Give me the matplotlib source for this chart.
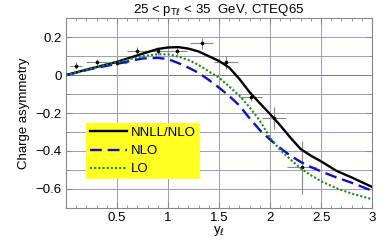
import numpy as np
import matplotlib.pyplot as plt
from matplotlib.ticker import MultipleLocator, FuncFormatter

plt.rcParams['font.family'] = ['Liberation Sans', 'DejaVu Sans']

# theory curves
y_grid = [0, 0.25, 0.5, 0.75, 0.9, 1.0, 1.1, 1.2, 1.3, 1.4, 1.5, 1.6, 1.7,
          1.8, 1.9, 2.0, 2.1, 2.2, 2.3, 2.4, 2.5, 2.65, 2.8, 3.0]
nnll = [0, 0.036, 0.07, 0.113, 0.138, 0.146, 0.148, 0.14, 0.125, 0.1, 0.075,
        0.04, -0.02, -0.09, -0.148, -0.205, -0.265, -0.33, -0.39, -0.425,
        -0.455, -0.505, -0.54, -0.59]
nlo = [0, 0.033, 0.06, 0.088, 0.091, 0.085, 0.064, 0.04, 0.012, -0.025,
       -0.066, -0.11, -0.16, -0.228, -0.29, -0.34, -0.385, -0.425, -0.458,
       -0.485, -0.508, -0.54, -0.568, -0.61]
lo = [0, 0.036, 0.068, 0.1, 0.11, 0.11, 0.098, 0.08, 0.054, 0.02, -0.013,
      -0.06, -0.108, -0.17, -0.24, -0.33, -0.395, -0.445, -0.492, -0.528,
      -0.56, -0.597, -0.625, -0.655]

# data points
data_x = [0.1, 0.3, 0.5, 0.7, 0.9, 1.09, 1.33, 1.57, 1.81, 2.04, 2.31]
data_y = [0.05, 0.07, 0.066, 0.127, 0.127, 0.13, 0.168, 0.068, -0.113, -0.226, -0.487]
data_xerr = [0.06, 0.1, 0.1, 0.1, 0.1, 0.1, 0.11, 0.12, 0.115, 0.12, 0.14]
data_yerr = [0.02, 0.017, 0.015, 0.022, 0.02, 0.025, 0.03, 0.035, 0.025, 0.06, 0.14]

fig = plt.figure(figsize=(3.9, 2.41), dpi=100)
ax = fig.add_axes([0.169, 0.138, 0.785, 0.786])

grid_c = '#9999cc'
for v in np.arange(-0.7, 0.31, 0.1):
    c = '#777777' if abs(v) < 1e-9 else grid_c
    ax.axhline(v, color=c, lw=0.7, zorder=0)
for v in [0.5, 1.0, 1.5, 2.0, 2.5]:
    ax.axvline(v, color=grid_c, lw=0.7, zorder=0)

ax.errorbar(data_x, data_y, xerr=data_xerr, yerr=data_yerr, fmt='o', ms=1.6,
            color='black', ecolor='#888888', elinewidth=0.8, capsize=0, zorder=3)

ax.plot(y_grid, nnll, color='black', lw=1.7, label='NNLL/NLO', zorder=4)
ax.plot(y_grid, nlo, color='#1010c8', lw=1.7, dashes=(5, 2.5), label='NLO', zorder=4)
ax.plot(y_grid, lo, color='#109010', lw=1.5, dashes=(1, 1), label='LO', zorder=4)

ax.set_xlim(0, 3)
ax.set_ylim(-0.7, 0.3)
ax.set_xticks([0.5, 1, 1.5, 2, 2.5, 3])
ax.set_yticks([-0.6, -0.4, -0.2, 0, 0.2])
fmt = FuncFormatter(lambda v, p: ('%g' % round(v, 2)).replace('-', '\u2212'))
ax.xaxis.set_major_formatter(fmt)
ax.yaxis.set_major_formatter(fmt)
ax.xaxis.set_minor_locator(MultipleLocator(0.1))
ax.yaxis.set_minor_locator(MultipleLocator(0.1))
ax.tick_params(which='both', direction='in', top=True, right=True,
               color='#888888', labelsize=9.5, pad=3)
ax.tick_params(which='major', length=4)
ax.tick_params(which='minor', length=2)
for s in ax.spines.values():
    s.set_color('#888888')
    s.set_linewidth(0.8)

ax.set_xlabel(r'y$_\ell$', fontsize=9.5, labelpad=0)
ax.set_ylabel('Charge asymmetry', fontsize=9.5, labelpad=4)
ax.set_title(r'25 < p$_{\mathrm{T}\ell}$ < 35  GeV, CTEQ65', fontsize=9.5, pad=3)

leg = ax.legend(loc='lower left', bbox_to_anchor=(0.065, 0.15), fontsize=9.5,
                frameon=True, fancybox=False, framealpha=1, handlelength=2.8,
                handletextpad=0.35, borderpad=0.3, labelspacing=0.45,
                borderaxespad=0)
leg.get_frame().set_facecolor('#ffff22')
leg.get_frame().set_edgecolor('none')

fig.savefig('out.png', dpi=100)
